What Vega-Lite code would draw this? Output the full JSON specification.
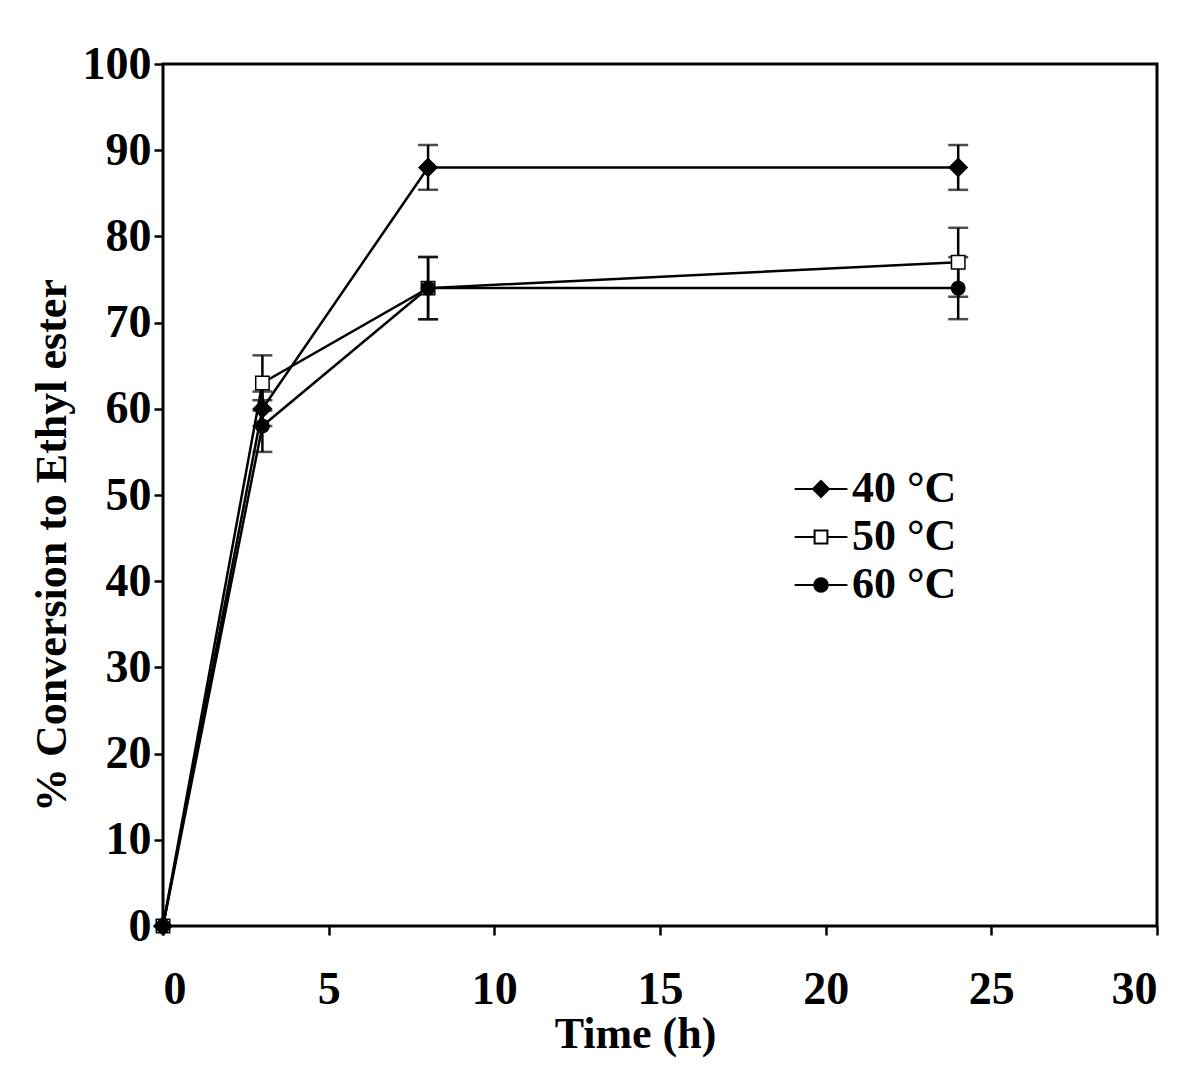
{
  "$schema": "https://vega.github.io/schema/vega-lite/v6.json",
  "autosize": {"type": "none"},
  "padding": {"left": 163, "top": 64, "right": 43, "bottom": 140},
  "width": 994,
  "height": 862,
  "background": "white",
  "config": {
    "view": {"stroke": "black", "strokeWidth": 3},
    "axis": {
      "labelFont": "Liberation Serif",
      "labelFontWeight": "bold",
      "labelFontSize": 46,
      "labelColor": "black",
      "titleFont": "Liberation Serif",
      "titleFontWeight": "bold",
      "titleFontSize": 44,
      "titleColor": "black",
      "grid": false,
      "domain": false,
      "tickColor": "black",
      "tickWidth": 2.5,
      "tickSize": 9
    },
    "legend": {
      "orient": "none",
      "legendX": 636,
      "legendY": 403,
      "padding": 0,
      "symbolSize": 256,
      "symbolOpacity": 1,
      "labelOffset": 9,
      "labelFont": "Liberation Serif",
      "labelFontWeight": "bold",
      "labelFontSize": 44,
      "labelColor": "black",
      "rowPadding": 4,
      "symbolStrokeColor": "black",
      "symbolStrokeWidth": 2
    }
  },
  "data": {
    "values": [
      {"temp": "40 °C", "time": 0, "conv": 0},
      {"temp": "40 °C", "time": 3, "conv": 60, "lo": 58, "hi": 62},
      {"temp": "40 °C", "time": 8, "conv": 88, "lo": 85.4, "hi": 90.6},
      {"temp": "40 °C", "time": 24, "conv": 88, "lo": 85.4, "hi": 90.6},
      {"temp": "50 °C", "time": 0, "conv": 0},
      {"temp": "50 °C", "time": 3, "conv": 63, "lo": 59.8, "hi": 66.2},
      {"temp": "50 °C", "time": 8, "conv": 74, "lo": 70.4, "hi": 77.6},
      {"temp": "50 °C", "time": 24, "conv": 77, "lo": 73, "hi": 81},
      {"temp": "60 °C", "time": 0, "conv": 0},
      {"temp": "60 °C", "time": 3, "conv": 58, "lo": 55, "hi": 61},
      {"temp": "60 °C", "time": 8, "conv": 74, "lo": 70.4, "hi": 77.6},
      {"temp": "60 °C", "time": 24, "conv": 74, "lo": 70.4, "hi": 77.6}
    ]
  },
  "encoding": {
    "x": {
      "field": "time", "type": "quantitative",
      "scale": {"domain": [0, 30], "nice": false, "zero": false},
      "axis": {"values": [0, 5, 10, 15, 20, 25, 30], "title": "Time (h)", "labelPadding": 32, "titlePadding": 0, "titleX": 472}
    }
  },
  "layer": [
    {
      "transform": [{"filter": "isValid(datum.lo)"}],
      "mark": {"type": "errorbar", "color": "black", "thickness": 2.5, "ticks": {"size": 20, "thickness": 2.5, "color": "black"}},
      "encoding": {
        "y": {"field": "lo", "type": "quantitative", "scale": {"domain": [0, 100], "nice": false},
              "axis": {"values": [0,10,20,30,40,50,60,70,80,90,100], "title": "% Conversion to Ethyl ester", "labelPadding": 3, "titlePadding": 8, "titleY": 481}},
        "y2": {"field": "hi"}
      }
    },
    {
      "mark": {"type": "line", "color": "black", "strokeWidth": 2.5},
      "encoding": {
        "y": {"field": "conv", "type": "quantitative"},
        "detail": {"field": "temp"}
      }
    },
    {
      "mark": {"type": "point", "stroke": "black", "strokeWidth": 1.5, "opacity": 1},
      "encoding": {
        "y": {"field": "conv", "type": "quantitative"},
        "fill": {"condition": {"test": "datum.temp === '50 °C'", "value": "white"}, "value": "black"},
        "size": {"condition": {"test": "datum.temp === '40 °C'", "value": 324}, "value": 180},
        "shape": {"condition": [{"test": "datum.temp === '40 °C'", "value": "diamond"}, {"test": "datum.temp === '50 °C'", "value": "square"}], "value": "circle"}
      }
    },
    {
      "mark": {"type": "point", "opacity": 0},
      "encoding": {
        "y": {"field": "conv", "type": "quantitative"},
        "shape": {
          "field": "temp", "type": "nominal",
          "scale": {"domain": ["40 °C", "50 °C", "60 °C"], "range": ["M-3.3,0H3.3M0,-1L1,0L0,1L-1,0Z", "M-3.3,0H-0.8M0.8,0H3.3M-0.8,-0.8H0.8V0.8H-0.8Z", "M-3.3,0H3.3M0.85,0C0.85,0.4695 0.4695,0.85 0,0.85C-0.4695,0.85 -0.85,0.4695 -0.85,0C-0.85,-0.4695 -0.4695,-0.85 0,-0.85C0.4695,-0.85 0.85,-0.4695 0.85,0Z"]},
          "legend": {"title": null}
        },
        "fill": {
          "field": "temp", "type": "nominal",
          "scale": {"domain": ["40 °C", "50 °C", "60 °C"], "range": ["black", "white", "black"]},
          "legend": {"title": null}
        },
        "stroke": {
          "field": "temp", "type": "nominal",
          "scale": {"domain": ["40 °C", "50 °C", "60 °C"], "range": ["black", "black", "black"]},
          "legend": {"title": null}
        }
      }
    }
  ]
}
